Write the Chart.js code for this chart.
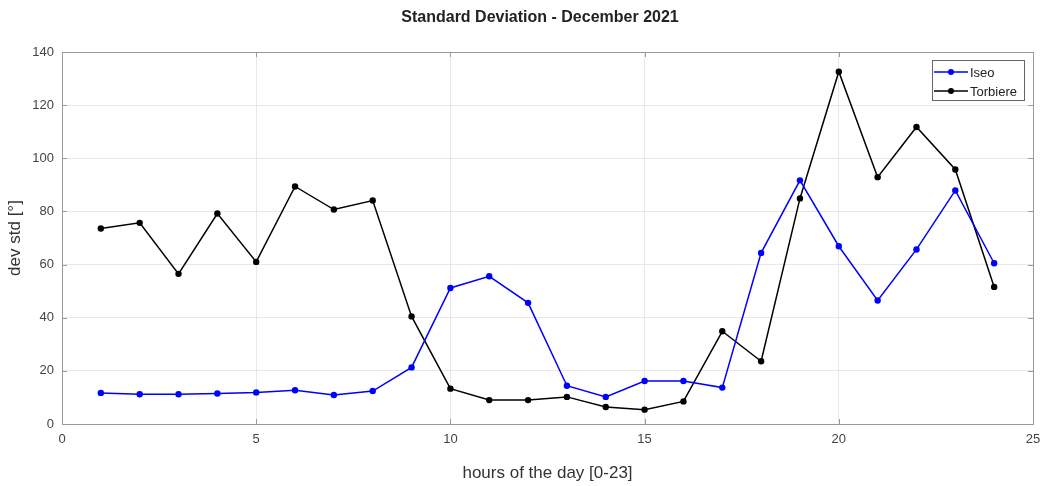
<!DOCTYPE html>
<html>
<head>
<meta charset="utf-8">
<title>Standard Deviation - December 2021</title>
<script src="https://cdn.jsdelivr.net/npm/chart.js@4"></script>
<style>
  html, body { margin: 0; padding: 0; background: #fff; }
  #wrap { width: 1050px; height: 486px; }
</style>
</head>
<body>
<div id="wrap"><canvas id="stdChart" width="1050" height="486"></canvas></div>
<script>
// hours 1..24
var hours = [1,2,3,4,5,6,7,8,9,10,11,12,13,14,15,16,17,18,19,20,21,22,23,24];
var iseo = [11.7,11.2,11.2,11.5,11.9,12.7,10.9,12.4,21.3,51.2,55.6,45.6,14.4,10.2,16.2,16.2,13.7,64.4,91.7,66.9,46.5,65.7,87.9,60.5];
var torbiere = [73.6,75.7,56.5,79.2,61.0,89.4,80.7,84.1,40.5,13.3,9.0,9.0,10.2,6.4,5.4,8.5,34.9,23.6,84.9,132.6,92.9,111.8,95.8,51.6];
var xTicks = [0,5,10,15,20,25];
var yTicks = [0,20,40,60,80,100,120,140];

function toPoints(vals) {
  var out = [];
  for (var i in hours) {
    out.push({x: hours[i], y: vals[i]});
  }
  return out;
}

var font = "'Liberation Sans', Arial, sans-serif";

// axes box with inward ticks, title and boxed legend, matlab style
var extras = {
  id: 'extras',
  afterDatasetsDraw: function(chart) {
    var c = chart.ctx;
    var a = chart.chartArea;
    var sx = chart.scales.x, sy = chart.scales.y;
    c.save();
    c.strokeStyle = '#9a9a9a';
    c.lineWidth = 1;
    c.beginPath();
    xTicks.forEach(function(v) {
      var px = Math.round(sx.getPixelForValue(v)) + 0.5;
      c.moveTo(px, a.bottom); c.lineTo(px, a.bottom - 5);
      c.moveTo(px, a.top); c.lineTo(px, a.top + 5);
    });
    yTicks.forEach(function(v) {
      var py = Math.round(sy.getPixelForValue(v)) + 0.5;
      c.moveTo(a.left, py); c.lineTo(a.left + 5, py);
      c.moveTo(a.right, py); c.lineTo(a.right - 5, py);
    });
    c.stroke();
    c.strokeRect(Math.round(a.left) + 0.5, Math.round(a.top) + 0.5, Math.round(a.right - a.left), Math.round(a.bottom - a.top));
    c.restore();
  },
  afterDraw: function(chart) {
    var c = chart.ctx;
    c.save();
    c.fillStyle = '#222';
    c.font = 'bold 16px ' + font;
    c.textAlign = 'center';
    c.textBaseline = 'middle';
    c.fillText('Standard Deviation - December 2021', 540, 18);

    var bx = 932, by = 60, bw = 92, bh = 40;
    c.fillStyle = '#fff';
    c.fillRect(bx, by, bw, bh);
    c.strokeStyle = '#666';
    c.lineWidth = 1;
    c.strokeRect(bx + 0.5, by + 0.5, bw, bh);
    c.font = '13px ' + font;
    c.textAlign = 'left';
    chart.data.datasets.forEach(function(ds, k) {
      var yy = by + 12 + k * 19;
      c.strokeStyle = ds.borderColor;
      c.lineWidth = 1.5;
      c.beginPath();
      c.moveTo(bx + 2, yy);
      c.lineTo(bx + 36, yy);
      c.stroke();
      c.fillStyle = ds.borderColor;
      c.beginPath();
      c.arc(bx + 19, yy, 3, 0, Math.PI * 2);
      c.fill();
      c.fillStyle = '#222';
      c.fillText(ds.label, bx + 38, yy + 1);
    });
    c.restore();
  }
};

var ctx = document.getElementById('stdChart');

var chart = new Chart(ctx, {
  type: 'line',
  data: {
    datasets: [
      {
        label: 'Iseo',
        data: toPoints(iseo),
        borderColor: '#0000ff',
        backgroundColor: '#0000ff',
        borderWidth: 1.5,
        pointRadius: 3.2,
        pointBorderWidth: 0,
        tension: 0
      },
      {
        label: 'Torbiere',
        data: toPoints(torbiere),
        borderColor: '#000000',
        backgroundColor: '#000000',
        borderWidth: 1.5,
        pointRadius: 3.2,
        pointBorderWidth: 0,
        tension: 0
      }
    ]
  },
  options: {
    responsive: false,
    animation: false,
    layout: { padding: { top: 52, right: 17, left: 0, bottom: 0 } },
    plugins: {
      legend: { display: false },
      title: { display: false },
      tooltip: { enabled: false }
    },
    scales: {
      x: {
        type: 'linear',
        min: 0,
        max: 25,
        afterBuildTicks: function(s) { s.ticks = xTicks.map(function(v) { return {value: v}; }); },
        afterFit: function(s) { s.height = 62; },
        grid: { color: '#e8e8e8', drawTicks: false },
        border: { color: '#9a9a9a' },
        ticks: { color: '#444', font: { family: font, size: 13 }, padding: 8, maxRotation: 0 },
        title: {
          display: true,
          text: 'hours of the day [0-23]',
          color: '#333',
          font: { family: font, size: 17 },
          padding: { top: 0, bottom: 2 }
        }
      },
      y: {
        min: 0,
        max: 140,
        afterBuildTicks: function(s) { s.ticks = yTicks.map(function(v) { return {value: v}; }); },
        afterFit: function(s) { s.width = 62; },
        grid: { color: '#e8e8e8', drawTicks: false },
        border: { color: '#9a9a9a' },
        ticks: { color: '#444', font: { family: font, size: 13 }, padding: 8 },
        title: {
          display: true,
          text: 'dev std [°]',
          color: '#333',
          font: { family: font, size: 17 },
          padding: { top: 5, bottom: 0 }
        }
      }
    }
  },
  plugins: [extras]
});
</script>
</body>
</html>
